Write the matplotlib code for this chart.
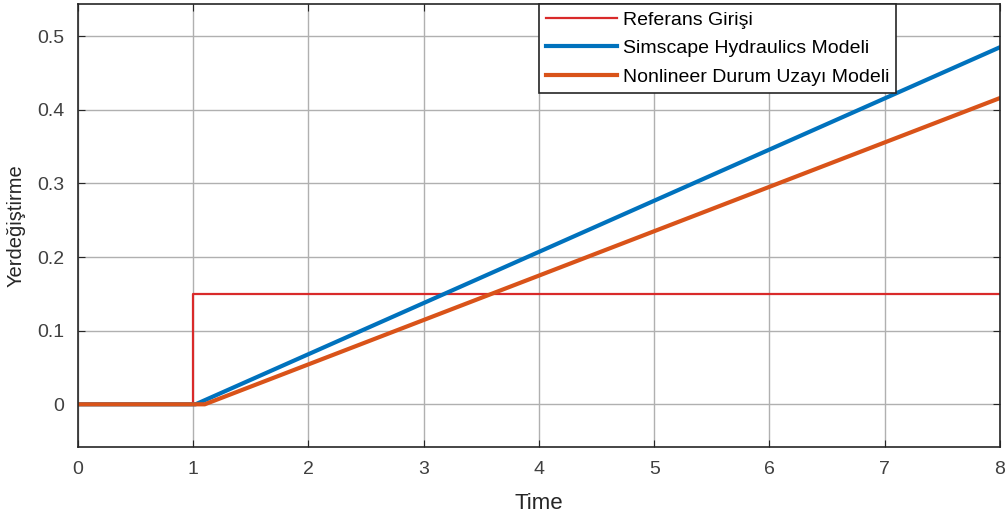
import numpy as np
import matplotlib.pyplot as plt

plt.rcParams['font.family'] = ['Liberation Sans', 'DejaVu Sans']

# simulation time breakpoints and responses (piecewise linear)
t_ref = [0, 1.0, 1.0, 8]
y_ref = [0, 0, 0.15, 0.15]

t_sim = [0, 1.02, 8]
y_sim = [0, 0, 0.485]

t_nl = [0, 1.10, 8]
y_nl = [0, 0, 0.416]

fig = plt.figure(figsize=(10.06, 5.21), dpi=100)
ax = fig.add_axes([0.0775, 0.142, 0.9165, 0.850])

ax.plot(t_ref, y_ref, color='#d92a2a', lw=1.6, label='Referans Girişi')
ax.plot(t_sim, y_sim, color='#0072bd', lw=3, label='Simscape Hydraulics Modeli')
ax.plot(t_nl, y_nl, color='#d95319', lw=3, label='Nonlineer Durum Uzayı Modeli')

ax.set_xlim(0, 8)
ax.set_ylim(-0.058, 0.5435)
ax.set_xticks(range(0, 9))
ax.set_yticks([0, 0.1, 0.2, 0.3, 0.4, 0.5])
ax.set_yticklabels(['0', '0.1', '0.2', '0.3', '0.4', '0.5'])
ax.grid(True, color='#b0b0b0', lw=1)
ax.tick_params(direction='in', top=True, right=True, labelsize=14,
               colors='#262626', labelcolor='#404040', length=5, pad=10)
for s in ax.spines.values():
    s.set_color('#262626')
    s.set_linewidth(1.2)

ax.set_xlabel('Time', fontsize=16, color='#262626', labelpad=11)
ax.set_ylabel('Yerdeğiştirme', fontsize=14.5, color='#262626', labelpad=8)

leg = ax.legend(loc='upper left', bbox_to_anchor=(0.5, 1.0), fontsize=14,
                frameon=True, fancybox=False, framealpha=1, edgecolor='#262626',
                borderpad=0.35, labelspacing=0.57, handlelength=3.65, handletextpad=0.3,
                borderaxespad=0)
leg.get_frame().set_linewidth(1.2)

fig.savefig('out.png', dpi=100)
